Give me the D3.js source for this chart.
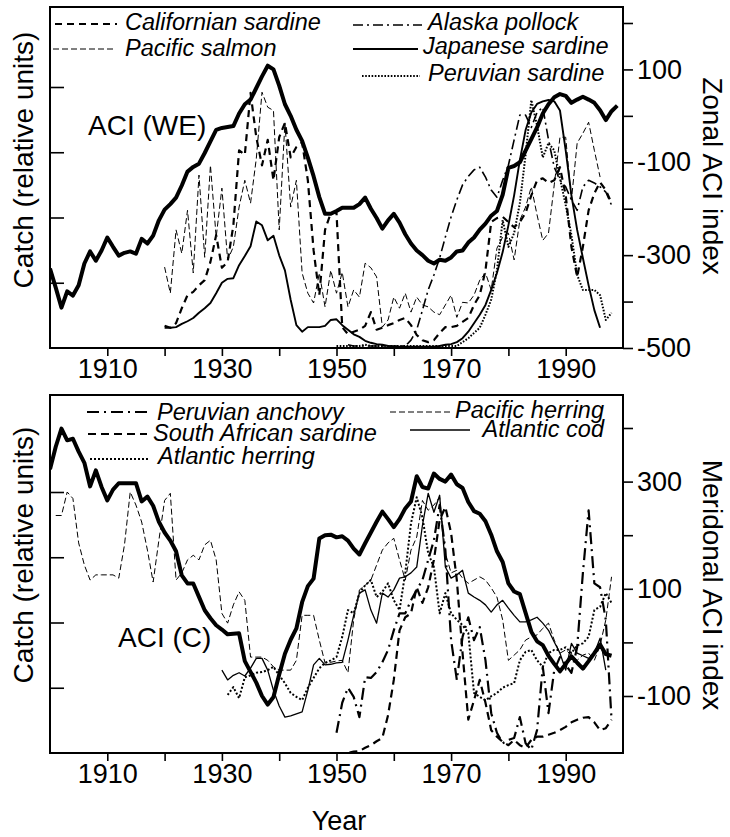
<!DOCTYPE html>
<html><head><meta charset="utf-8">
<script src="https://cdn.jsdelivr.net/npm/d3@7/dist/d3.min.js"></script>
<style>
body{margin:0;background:#fff;}
svg{display:block;font-family:"Liberation Sans",Arial,Helvetica,sans-serif;}
</style></head><body>
<svg id="chart" width="730" height="837"></svg>
<script>
// ---------- DATA ----------
const xTickYears = [1910,1920,1930,1940,1950,1960,1970,1980,1990];
const xTickLabels = [1910,1930,1950,1970,1990];
const catchTicks = [1,2,3,4];
const zonalTicks = [-500,-400,-300,-200,-100,0,100,200];
const zonalLabels = [100,-100,-300,-500];
const meridTicks = [-100,0,100,200,300,400];
const meridLabels = [300,100,-100];

// Top panel: zonal ACI (WE), 1900-1999
const aciWEStart = 1900;
const aciWE = [-329,-370,-413,-378,-387,-365,-318,-292,-312,-290,
 -262,-282,-301,-295,-292,-297,-265,-275,-258,-225,
 -202,-190,-176,-150,-120,-110,-103,-80,-55,-30,
 -26,-24,-22,5,25,35,60,85,108,100,
 65,25,0,-30,-54,-90,-130,-175,-211,-211,
 -205,-198,-198,-198,-190,-176,-200,-220,-243,-225,
 -211,-230,-255,-275,-290,-300,-312,-318,-310,-312,
 -305,-292,-290,-273,-262,-245,-232,-215,-205,-170,
 -112,-108,-100,-75,-50,-25,5,25,40,47,
 43,28,35,41,35,28,12,-9,10,22];

// Top panel catches (relative units)
const californianSardineStart = 1920;
const californianSardine = [0.34,0.31,0.38,0.61,0.81,0.86,0.96,1.04,1.32,1.73,
 1.23,1.32,1.88,3.03,2.96,3.91,3.23,2.80,3.19,2.57,
 3.23,3.45,2.92,3.08,3.15,2.57,1.50,0.81,1.81,2.07,
 2.07,0.32,0.21,0.25,0.28,0.34,0.55,0.28,0.31,0.35,
 0.38,0.43,0.46,0.35,0.20,0.12,0.09,0.12,0.23,0.32,
 0.32,0.34,0.40,0.46,0.66,0.81,1.19,1.93,1.99,2.01,
 1.93,1.85,1.93,2.07,2.34,2.57,2.60,2.53,2.57,2.77,
 2.34,1.55,1.09,1.55,2.11,2.37,2.54,2.42,2.22];

const pacificSalmonStart = 1920;
const pacificSalmon = [1.24,0.84,1.81,1.45,2.11,1.15,2.65,1.39,2.80,1.70,
 2.45,1.35,1.55,2.16,2.57,2.22,2.90,3.92,3.69,3.64,
 1.81,3.45,2.16,2.57,1.15,0.84,0.69,1.15,0.63,1.19,
 0.84,1.16,0.63,0.89,0.78,1.30,1.23,1.09,0.32,0.43,
 0.78,0.61,0.84,0.55,0.78,0.66,0.63,0.55,0.51,0.66,
 0.81,0.47,0.70,0.69,0.81,1.04,1.15,0.89,1.53,1.70,
 1.76,1.35,1.96,2.16,2.47,2.04,1.65,1.76,2.50,3.23,
 3.23,2.27,3.14,3.29,3.46,3.03,2.62];

const alaskaPollockStart = 1952;
const alaskaPollock = [0.05,0.03,0.03,0.03,0.03,0.03,0.03,0.03,0.03,0.03,0.03,
 0.12,0.28,0.58,0.89,1.12,1.38,1.70,
 2.01,2.27,2.50,2.63,2.73,2.77,2.62,2.42,2.31,2.57,
 2.80,3.19,3.57,3.57,3.38,3.61,3.69,3.19,2.77,2.57,
 2.47,2.27,2.11,2.47,2.57,2.53,2.47,2.39,2.19];

const japaneseSardineStart = 1920;
const japaneseSardine = [0.31,0.31,0.32,0.37,0.41,0.46,0.54,0.61,0.69,0.84,
 1.00,1.06,1.07,1.27,1.41,1.56,1.94,1.88,1.65,1.72,
 1.42,1.19,0.74,0.35,0.25,0.32,0.32,0.32,0.34,0.43,
 0.44,0.35,0.28,0.21,0.17,0.11,0.08,0.06,0.05,0.03,
 0.02,0.02,0.02,0.02,0.02,0.02,0.02,0.02,0.03,0.05,
 0.06,0.09,0.15,0.25,0.38,0.51,0.66,0.89,1.15,1.47,
 1.88,2.34,2.88,3.34,3.61,3.74,3.78,3.80,3.78,3.64,
 3.03,2.34,1.81,1.38,0.96,0.58,0.31];

const peruvianSardineStart = 1950;
const peruvianSardine = [0.03,0.03,0.03,0.03,0.03,0.05,0.03,0.03,0.03,0.03,
 0.03,0.03,0.03,0.03,0.03,0.03,0.03,0.03,0.03,0.03,
 0.03,0.03,0.09,0.15,0.23,0.31,0.51,0.74,1.19,1.96,
 1.55,1.76,2.22,2.96,3.80,3.41,2.92,3.14,3.03,2.60,
 2.19,1.73,1.12,0.89,0.89,0.89,0.81,0.43,0.54];

// Bottom panel: meridional ACI (C), 1900-1998
const aciCStart = 1900;
const aciC = [323,365,399,377,380,356,335,291,321,290,
 265,285,297,297,297,297,263,272,255,225,
 205,190,170,125,110,110,85,60,45,32,
 24,15,16,17,-35,-55,-75,-100,-116,-102,
 -60,-21,5,26,75,105,119,194,200,201,
 196,198,190,175,164,185,205,225,244,230,
 215,230,250,263,310,290,287,315,305,300,
 313,295,288,262,245,240,226,201,170,150,
 110,95,90,55,20,2,-5,-25,-40,-54,
 -40,-26,-38,-49,-35,-20,-4,-22,-25];

const peruvianAnchovyStart = 1950;
const peruvianAnchovy = [0.31,0.77,1.00,0.86,0.55,1.16,1.15,1.24,1.39,1.58,
 1.88,2.14,2.14,2.34,2.50,2.65,2.96,3.26,3.80,3.11,
 1.73,1.12,1.78,2.08,1.73,1.93,1.42,0.61,0.31,0.15,
 0.20,0.23,0.55,0.15,0.05,0.35,1.32,0.61,1.27,1.47,
 1.35,1.23,1.62,2.76,3.72,2.60,2.54,2.04,0.51];

const southAfricanSardineStart = 1950;
const southAfricanSardine = [0,0,0,0.02,0.03,0.08,0.12,0.18,0.23,0.58,
 1.12,1.88,2.08,2.14,2.54,2.30,2.54,2.96,3.57,3.77,
 3.37,2.65,1.53,0.51,0.81,1.12,0.77,0.35,0.25,0.17,
 0.12,0.20,0.12,0.08,0.20,0.25,0.25,0.28,0.31,0.35,
 0.40,0.47,0.51,0.54,0.55,0.47,0.35,0.38,0.51];

const atlanticHerringStart = 1931;
const atlanticHerring = [0.89,1.01,0.84,1.16,1.19,1.23,1.24,1.27,1.32,
 1.19,1.07,0.92,0.86,0.81,1.00,1.15,1.30,1.38,1.42,
 1.47,1.78,2.19,2.14,2.45,2.57,2.65,2.39,2.47,2.60,
 2.34,2.19,2.76,3.52,3.92,3.61,3.06,2.85,2.14,2.45,
 2.14,2.04,1.96,1.84,0.92,0.86,0.81,0.87,0.92,1.00,
 1.04,1.07,1.42,1.55,1.58,1.42,1.32,1.53,1.58,1.58,
 1.62,1.53,1.65,1.68,1.78,2.19,2.24,2.45,2.30];

const pacificHerringStart = 1901;
const pacificHerring = [3.64,3.64,4.00,3.90,3.22,2.88,2.65,2.73,2.73,
 2.73,2.73,2.68,3.19,4.00,3.80,3.54,3.11,2.62,3.26,
 3.87,3.98,2.65,2.76,2.96,3.03,2.96,3.19,3.26,2.96,
 2.14,1.99,2.27,2.47,2.34,1.47,1.47,1.47,1.42,1.32,
 1.27,1.27,1.27,1.42,2.11,2.11,2.11,1.73,1.38,1.39,
 1.41,1.42,1.23,2.04,2.50,2.57,2.65,2.88,3.11,3.22,
 3.29,2.96,2.65,3.11,3.31,3.87,3.72,3.80,3.92,3.06,
 2.76,2.80,2.68,2.60,2.65,2.70,2.65,2.53,2.39,2.04,
 1.42,1.50,1.58,1.73,1.78,1.81,1.91,1.99,1.73,1.53,
 1.58,1.50,1.42,1.50,1.53,1.42,1.65,2.04,2.70];

const atlanticCodStart = 1930;
const atlanticCod = [1.27,1.12,1.19,1.23,1.18,1.30,1.45,1.45,1.27,0.96,
 0.72,0.55,0.57,0.60,0.63,0.96,1.35,1.45,1.35,1.36,
 1.38,1.39,1.73,2.11,2.45,2.50,2.19,1.99,2.45,2.39,
 2.50,2.68,2.70,2.76,2.85,3.49,3.98,3.69,3.95,2.85,
 2.68,2.73,2.80,2.45,2.39,2.34,2.27,2.16,2.27,2.34,
 2.22,2.11,2.01,2.01,2.04,2.08,1.99,1.88,1.70,1.53,
 1.27,1.68,1.53,1.49,1.45,1.53,1.76,1.27];

// ---------- STYLES ----------
const st = {
  aci:        {w:4,   dash:null},
  calSard:    {w:2.2, dash:"7,5"},
  pacSalmon:  {w:1,   dash:"6,3"},
  alaska:     {w:1.6, dash:"10,4,2,4"},
  japSard:    {w:1.9, dash:null},
  peruSard:   {w:2,   dash:"1.6,1.6"},
  peruAnch:   {w:2.2, dash:"12,5,2,5"},
  saSard:     {w:2.2, dash:"8,5"},
  atlHerring: {w:2,   dash:"2,2"},
  pacHerring: {w:1,   dash:"6,3"},
  atlCod:     {w:1.3, dash:null}
};

const svg = d3.select("#chart");
const x = d3.scaleLinear([1900, 2000], [50, 623]);

const panels = [
  {
    top: 7, bottom: 348,
    catchY: d3.scaleLinear([0, 4], [348, 87]),
    aciY: d3.scaleLinear([-500, 200], [348, 23]),
    aciTicks: zonalTicks, aciLabels: zonalLabels,
    aci: aciWE, aciStart: aciWEStart,
    series: [
      {v: pacificSalmon, s: pacificSalmonStart, st: st.pacSalmon},
      {v: californianSardine, s: californianSardineStart, st: st.calSard},
      {v: alaskaPollock, s: alaskaPollockStart, st: st.alaska},
      {v: peruvianSardine, s: peruvianSardineStart, st: st.peruSard},
      {v: japaneseSardine, s: japaneseSardineStart, st: st.japSard}
    ],
    leftTitle: "Catch (relative units)", leftTitleY: 160,
    rightTitle: "Zonal ACI index", rightTitleY: 176,
    aciLabel: {t: "ACI (WE)", x: 88, y: 135},
    legend: [
      {t: "Californian sardine", st: st.calSard, x1: 55, x2: 117, ly: 24, tx: 125, ty: 30, a: "start"},
      {t: "Pacific salmon", st: st.pacSalmon, x1: 53, x2: 113, ly: 49, tx: 125, ty: 56, a: "start"},
      {t: "Alaska pollock", st: st.alaska, x1: 353, x2: 422, ly: 25, tx: 428, ty: 30, a: "start"},
      {t: "Japanese sardine", st: st.japSard, x1: 353, x2: 418, ly: 49, tx: 423, ty: 54, a: "start"},
      {t: "Peruvian sardine", st: st.peruSard, x1: 362, x2: 420, ly: 76, tx: 428, ty: 81, a: "start"}
    ]
  },
  {
    top: 395, bottom: 753,
    catchY: d3.scaleLinear([0, 4], [753, 492]),
    aciY: d3.scaleLinear([-100, 400], [696, 428]),
    aciTicks: meridTicks, aciLabels: meridLabels,
    aci: aciC, aciStart: aciCStart,
    series: [
      {v: pacificHerring, s: pacificHerringStart, st: st.pacHerring},
      {v: atlanticCod, s: atlanticCodStart, st: st.atlCod},
      {v: atlanticHerring, s: atlanticHerringStart, st: st.atlHerring},
      {v: southAfricanSardine, s: southAfricanSardineStart, st: st.saSard},
      {v: peruvianAnchovy, s: peruvianAnchovyStart, st: st.peruAnch}
    ],
    leftTitle: "Catch (relative units)", leftTitleY: 555,
    rightTitle: "Meridonal ACI index", rightTitleY: 585,
    aciLabel: {t: "ACI (C)", x: 118, y: 647},
    legend: [
      {t: "Peruvian anchovy", st: st.peruAnch, x1: 87, x2: 148, ly: 412, tx: 157, ty: 420, a: "start"},
      {t: "South African sardine", st: st.saSard, x1: 88, x2: 147, ly: 434, tx: 153, ty: 441, a: "start"},
      {t: "Atlantic herring", st: st.atlHerring, x1: 90, x2: 150, ly: 459, tx: 158, ty: 464, a: "start"},
      {t: "Pacific herring", st: st.pacHerring, x1: 390, x2: 450, ly: 412, tx: 604, ty: 418, a: "end"},
      {t: "Atlantic cod", st: st.atlCod, x1: 410, x2: 470, ly: 430, tx: 604, ty: 437, a: "end"}
    ]
  }
];

function styleLine(sel, s) {
  sel.attr("fill", "none").attr("stroke", "#000")
     .attr("stroke-width", s.w)
     .attr("stroke-linejoin", "round")
     .attr("stroke-dasharray", s.dash);
}

panels.forEach((p, pi) => {
  const g = svg.append("g");
  const clipId = "clip" + pi;
  svg.append("clipPath").attr("id", clipId).append("rect")
    .attr("x", 50).attr("y", p.top).attr("width", 573).attr("height", p.bottom - p.top);

  const plot = g.append("g").attr("clip-path", `url(#${clipId})`);

  p.series.forEach(sr => {
    const line = d3.line().x((d, i) => x(sr.s + i)).y(d => p.catchY(d));
    plot.append("path").datum(sr.v).attr("d", line).call(styleLine, sr.st);
  });
  const aciLine = d3.line().x((d, i) => x(p.aciStart + i)).y(d => p.aciY(d));
  plot.append("path").datum(p.aci).attr("d", aciLine).call(styleLine, st.aci);

  g.append("rect").attr("x", 50).attr("y", p.top).attr("width", 573)
    .attr("height", p.bottom - p.top).attr("fill", "none")
    .attr("stroke", "#000").attr("stroke-width", 2);

  const xAxis = d3.axisBottom(x).tickValues(xTickYears).tickSize(8).tickPadding(3)
    .tickFormat(d => xTickLabels.includes(d) ? String(d) : "");
  const gx = g.append("g").attr("transform", `translate(0,${p.bottom})`).call(xAxis);
  gx.select(".domain").remove();
  gx.selectAll(".tick line").attr("stroke-width", 1.6);
  gx.selectAll(".tick text").attr("font-size", 27).attr("font-family", "Liberation Sans, Arial, sans-serif").attr("fill", "#000");

  const yl = d3.axisRight(p.catchY).tickValues(catchTicks).tickSize(14).tickFormat("");
  const gl = g.append("g").attr("transform", "translate(50,0)").call(yl);
  gl.select(".domain").remove();
  gl.selectAll(".tick line").attr("stroke-width", 1.6);

  const yr = d3.axisRight(p.aciY).tickValues(p.aciTicks).tickSize(10).tickPadding(4)
    .tickFormat(d => p.aciLabels.includes(d) ? String(d) : "");
  const gr = g.append("g").attr("transform", "translate(623,0)").call(yr);
  gr.select(".domain").remove();
  gr.selectAll(".tick line").attr("stroke-width", 1.6);
  gr.selectAll(".tick text").attr("font-size", 27).attr("font-family", "Liberation Sans, Arial, sans-serif").attr("fill", "#000");

  g.append("text").attr("transform", `translate(33,${p.leftTitleY}) rotate(-90)`)
    .attr("text-anchor", "middle").attr("font-size", 28).text(p.leftTitle);
  g.append("text").attr("transform", `translate(703,${p.rightTitleY}) rotate(90)`)
    .attr("text-anchor", "middle").attr("font-size", 28).text(p.rightTitle);

  g.append("text").attr("x", p.aciLabel.x).attr("y", p.aciLabel.y)
    .attr("font-size", 28).text(p.aciLabel.t);

  p.legend.forEach(l => {
    g.append("line").attr("x1", l.x1).attr("x2", l.x2).attr("y1", l.ly).attr("y2", l.ly)
      .call(styleLine, l.st);
    g.append("text").attr("x", l.tx).attr("y", l.ty).attr("text-anchor", l.a)
      .attr("font-size", 23.5).attr("font-style", "italic").text(l.t);
  });
});

svg.append("text").attr("x", 339).attr("y", 830).attr("text-anchor", "middle")
  .attr("font-size", 27).text("Year");
</script>
</body></html>
